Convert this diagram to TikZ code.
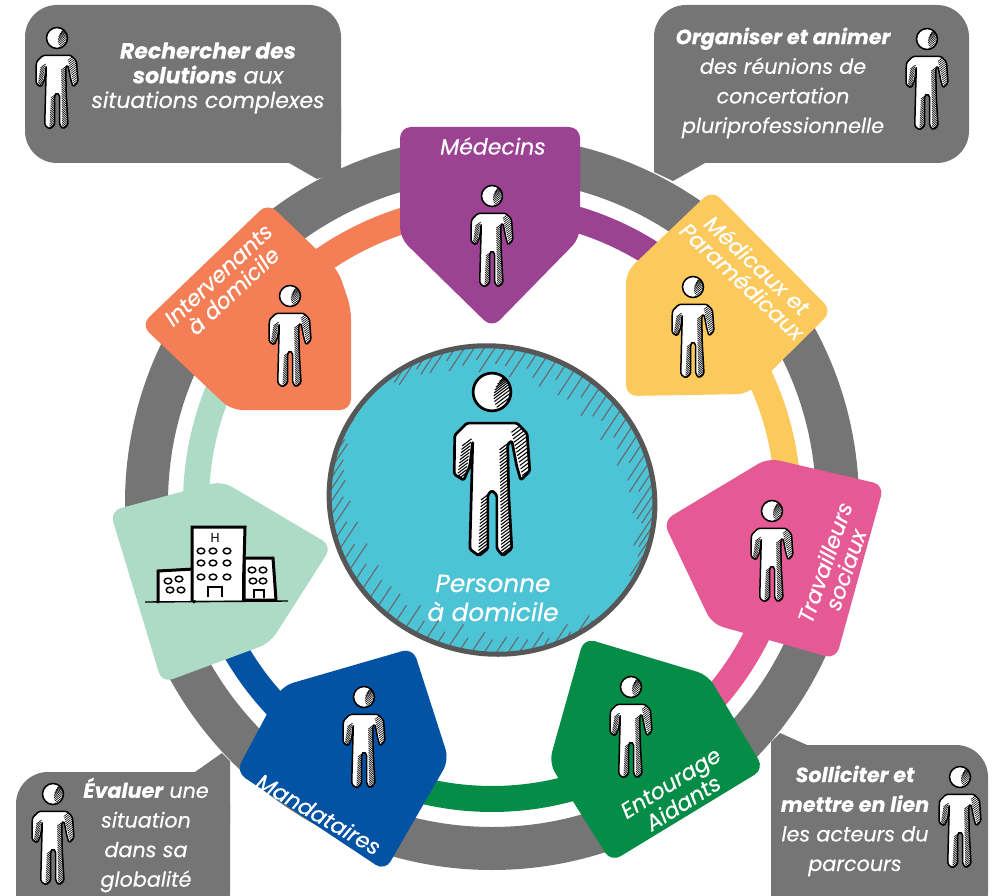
\documentclass[tikz,border=0pt]{standalone}
\usepackage{fontspec}
\setmainfont{Poppins}
\definecolor{ringgray}{HTML}{757575}
\definecolor{cpurple}{HTML}{9B4292}
\definecolor{cyellow}{HTML}{FBC95C}
\definecolor{cpink}{HTML}{E55A95}
\definecolor{cgreen}{HTML}{058C46}
\definecolor{cblue}{HTML}{0353A4}
\definecolor{cmint}{HTML}{AEDBC6}
\definecolor{corange}{HTML}{F47F57}
\definecolor{ccyan}{HTML}{4DC3D6}
\definecolor{cblob}{HTML}{575757}
\def\bodypath{(-14,17.3) -- (14,17.3) -- (19.5,23) -- (21,44) -- (16,49) -- (13.7,41) -- (11,27) -- (8.7,29) -- (9.3,57) -- (11,87) -- (6,91) -- (2.7,87) -- (2.7,57.3) -- (0,54.7) -- (-2.3,57) -- (-2.3,87) -- (-7.3,91) -- (-12.3,87.3) -- (-10.7,27.3) -- (-12.3,41) -- (-15.7,49) -- (-21,45.7) -- (-20.7,24) -- cycle}
\newcommand\hstrip[6]{%
  \foreach \i in {0,...,#5}{
    \draw[line width=\hwd] ({#1+(#3-#1)*\i/#5},{#2+(#4-#2)*\i/#5}) ++(-#6,.75*#6) -- ++(2*#6,-1.5*#6);
  }}
\newcommand\figperson[3]{%
  \begin{scope}[shift={(#1,#2)},scale=#3]
    \pgfmathsetlengthmacro\hwd{0.6pt*#3}
    \pgfmathsetlengthmacro\owd{1.5pt*#3}
    \fill[white] (0,0) circle[radius=10.5];
    \begin{scope}
      \clip (0,0) circle[radius=10.5];
      \foreach \yy in {-10,-8.4,...,10}{
        \draw[line width=\hwd] ({1+.18*\yy*\yy/4},{\yy+2.5}) -- ++(12,-9);
      }
    \end{scope}
    \draw[line width=\owd] (0,0) circle[radius=10.5];
    \fill[white,rounded corners=1.6] \bodypath;
    \begin{scope}
      \clip[rounded corners=1.6] \bodypath;
      \hstrip{14}{20}{20}{44}{13}{3.2}
      \hstrip{7}{30}{8}{88}{32}{2.8}
      \hstrip{-14}{28}{-17}{47}{10}{2.6}
      \hstrip{-3.5}{58}{-5}{88}{16}{2.6}
    \end{scope}
    \draw[line width=\owd,rounded corners=1.6,line join=round] \bodypath;
  \end{scope}}
\tikzset{
  bubble/.style={fill=ringgray,rounded corners=32pt},
  tailshape/.style={fill=ringgray},
  petal/.style={rounded corners=11pt},
  ringarc/.style={line width=26pt,domain=#1,samples=50},
  bubbletext/.style={text=white,font=\fontsize{20.7}{29.6}\selectfont\itshape\addfontfeature{FakeBold=0.3},align=center,inner sep=0pt},
  petaltext/.style={text=white,font=\fontsize{22}{22}\selectfont\itshape\addfontfeature{FakeBold=0.4},align=center,inner sep=0pt},
  winstyle/.style={draw=black,line width=1.5pt,fill=white},
  bldg/.style={draw=black,line width=3pt,fill=white,line cap=round}
}
\begin{document}
\begin{tikzpicture}[x=1pt,y=-1pt]
\useasboundingbox (0,0) rectangle (993,896);
\clip (0,0) rectangle (993,896);
\fill[white] (0,0) rectangle (993,896);
% outer ring
\draw[ringgray,line width=43pt] (492,503) circle[radius=345.5pt];
% bubbles
\fill[bubble] (25,5) rectangle (341,163);
\fill[tailshape] (289,163) -- (317,179) -- (341,172) -- (341,110) -- (280,110) -- cycle;
\fill[bubble] (654,5) rectangle (969,163);
\fill[tailshape] (705,163) -- (673,181) -- (654,172) -- (654,110) -- (715,110) -- cycle;
\fill[bubble] (771,745) rectangle (988,925);
\fill[tailshape] (807,745) -- (780,733) -- (771,742) -- (771,800) -- (815,800) -- cycle;
\fill[bubble] (16,772) rectangle (230,925);
\fill[tailshape] (195,772) -- (222,753) -- (230,761) -- (230,825) -- (185,825) -- cycle;
% coloured ring
\draw[ringarc=-92:-52,cpurple] plot ({492+296*cos(\x)},{503+296*sin(\x)});
\draw[ringarc=-55:2,cyellow] plot ({492+296*cos(\x)},{503+296*sin(\x)});
\draw[ringarc=3:45,cpink] plot ({492+296*cos(\x)},{503+296*sin(\x)});
\draw[ringarc=48:104,cgreen] plot ({492+296*cos(\x)},{503+296*sin(\x)});
\draw[ringarc=106:153,cblue] plot ({492+296*cos(\x)},{503+296*sin(\x)});
\draw[ringarc=155:206,cmint] plot ({492+296*cos(\x)},{503+296*sin(\x)});
\draw[ringarc=210:270,corange] plot ({492+296*cos(\x)},{503+296*sin(\x)});
% petals
\fill[petal,cpurple] (400,127) -- (580,127) -- (580,238) -- (492,328) -- (400,238) -- cycle;
\fill[petal,cyellow] (712,190) -- (832,311) -- (748,394) -- (626,396) -- (626,272) -- cycle;
\fill[petal,cpink] (663,521) -- (768,458) -- (884,485) -- (836,659) -- (712,624) -- cycle;
\fill[petal,cgreen] (584,638) -- (708,675) -- (764,769) -- (611,862) -- (549,763) -- cycle;
\fill[petal,cblue] (413,648) -- (449,760) -- (385,871) -- (236,772) -- (282,686) -- cycle;
\fill[petal,cmint] (110,511) -- (222,481) -- (332,546) -- (270,643) -- (162,683) -- cycle;
\fill[petal,corange] (268,203) -- (338,270) -- (351,308) -- (351,410) -- (231,410) -- (141,325) -- cycle;
% central blob
\def\blob{plot[domain=0:360,samples=120,smooth cycle] ({492+(158.5+5*cos(2*\x-30))*cos(\x)},{500+(158.5+5*cos(2*\x-30))*sin(\x)})}
\fill[ccyan] \blob;
\begin{scope}
  \clip \blob;
  \foreach \a in {-117,-113.5,...,28}{
    \draw[cblob!90,line width=1.1pt] ({492+168*cos(\a)},{500+168*sin(\a)}) -- ++({-.55*(40+8*sin(\a*37))},{.83*(40+8*sin(\a*37))});
  }
  \foreach \a in {60,64,...,198}{
    \draw[cblob!90,line width=1.1pt] ({492+168*cos(\a)},{500+168*sin(\a)}) -- ++({.55*(36+7*sin(\a*41))},{-.83*(36+7*sin(\a*41))});
  }
\end{scope}
\draw[cblob,line width=5pt] \blob;
% people
\figperson{57}{38}{1}
\figperson{927}{39}{1}
\figperson{960}{777}{1}
\figperson{53}{794}{1}
\figperson{492}{196}{1}
\figperson{693}{287}{1}
\figperson{772}{511}{1}
\figperson{631}{687}{1}
\figperson{364}{697}{1}
\figperson{290}{296}{1}
\figperson{492}{392}{1.8}
% hospital
\draw[bldg] (158,602) -- (158,571) -- (194,569) -- (194,602);
\draw[bldg] (244,558) -- (273,558) -- (276,600) -- (244,600) -- cycle;
\draw[bldg] (192,600) -- (192,527) -- (245,527) -- (243,600);
\fill[white] (193.6,599.5) rectangle (241.5,528.6);
\draw[black,line width=1.4pt] (145,602) -- (288,601);
\foreach \wx/\wy in {201/551,213/551,227/551,201/563,213/563,227/563,201/577,213/577,227/577,168/581,179/579,170/590,181/590,252/570,263/570,253/581,263/581}{
  \draw[winstyle] (\wx,\wy) ellipse[x radius=3.8,y radius=2.9];
}
\draw[black,line width=1.3pt] (208,597) -- (208,587) -- (222,587) -- (222,597);
\draw[black,line width=1.3pt] (254,598) -- (254,590) -- (264,590) -- (264,598);
\node[inner sep=0pt,font=\fontsize{13}{13}\selectfont] (hsign) at (215,538) {H};
% bubble texts
\node[bubbletext,font=\fontsize{22}{24.7}\selectfont\itshape\addfontfeature{FakeBold=0.3}] (t1) at (208,78) {\textbf{Rechercher des}\\\textbf{solutions} aux\\situations complexes};
\node[bubbletext] (t2) at (783,83) {\textbf{Organiser et animer}\\des réunions de\\concertation\\pluriprofessionnelle};
\node[bubbletext] (t3) at (855,821) {\textbf{Solliciter et}\\\textbf{mettre en lien}\\les acteurs du\\parcours};
\node[bubbletext] (t4) at (146,835) {\textbf{Évaluer} une\\situation\\dans sa\\globalité};
% petal labels
\node[petaltext] (l1) at (493,146) {Médecins};
\node[petaltext,rotate=-43] (l2) at (750,273) {Médicaux et\\Paramédicaux};
\node[petaltext,rotate=71] (l3) at (835,566) {Travailleurs\\sociaux};
\node[petaltext,rotate=32] (l4) at (677,793) {Entourage\\Aidants};
\node[petaltext,rotate=-30] (l5) at (319,814) {Mandataires};
\node[petaltext,rotate=43] (l6) at (226,283) {Intervenants\\à domicile};
\node[petaltext,font=\fontsize{24.8}{29}\selectfont\itshape\addfontfeature{FakeBold=0.4}] (l7) at (493,598) {Personne\\à domicile};
\end{tikzpicture}
\end{document}
